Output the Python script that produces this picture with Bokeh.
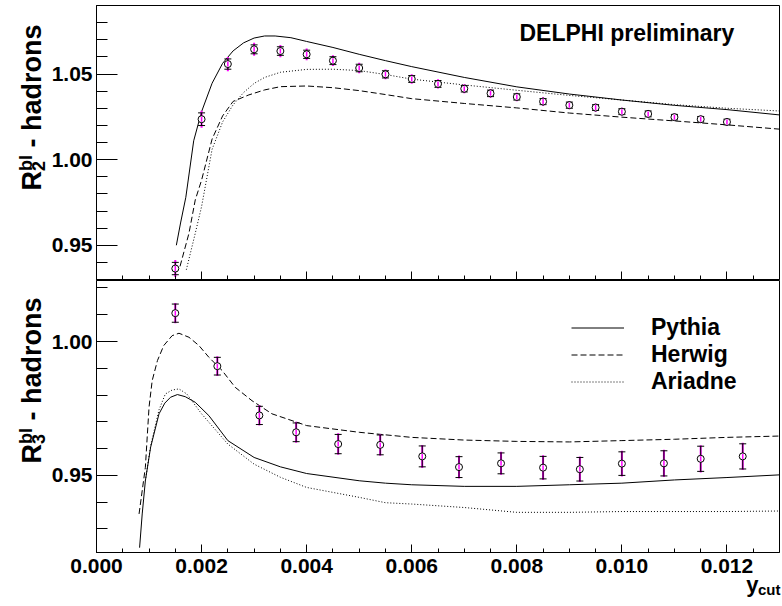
import math
from bokeh.plotting import figure
from bokeh.models import (Range1d, Label, Legend, LegendItem, ColumnDataSource,
                          FixedTicker, NumeralTickFormatter)
from bokeh.layouts import column, row
from bokeh.embed import file_html
from bokeh.resources import INLINE

FONT = "Liberation Sans"

# ---------------- data: upper panel (R2) ----------------
r2_x = [0.0015, 0.0020, 0.0025, 0.0030, 0.0035, 0.0040, 0.0045, 0.0050, 0.0055, 0.0060, 0.0065,
        0.0070, 0.0075, 0.0080, 0.0085, 0.0090, 0.0095, 0.0100, 0.0105, 0.0110, 0.0115, 0.0120]
r2_y = [0.9364, 1.0236, 1.0558, 1.0644, 1.0634, 1.0615, 1.0578, 1.0535, 1.0498, 1.0471, 1.0442,
        1.0414, 1.0387, 1.0366, 1.0339, 1.0318, 1.0304, 1.0280, 1.0267, 1.0248, 1.0236, 1.0220]
r2_stat = [0.0036, 0.0037, 0.0030, 0.0026, 0.0025, 0.0024, 0.0023, 0.0022, 0.0021, 0.0020, 0.0020,
           0.0019, 0.0019, 0.0018, 0.0018, 0.0018, 0.0017, 0.0017, 0.0017, 0.0016, 0.0016, 0.0016]
r2_tot = [0.0050, 0.0050, 0.0042, 0.0038, 0.0036, 0.0034, 0.0032, 0.0030, 0.0029, 0.0028, 0.0027,
          0.0026, 0.0026, 0.0025, 0.0025, 0.0024, 0.0024, 0.0023, 0.0023, 0.0022, 0.0022, 0.0022]

r2_pythia_x = [0.00152, 0.0016, 0.0017, 0.00185, 0.0020, 0.0022, 0.0024, 0.0026, 0.0028, 0.0030,
               0.0032, 0.0034, 0.0037, 0.0040, 0.0045, 0.0050, 0.0055, 0.0060, 0.0070, 0.0080,
               0.0090, 0.0100, 0.0110, 0.0120, 0.0130]
r2_pythia_y = [0.950, 0.963, 0.978, 1.011, 1.028, 1.0446, 1.0562, 1.0635, 1.0682, 1.0710,
               1.0722, 1.0722, 1.0712, 1.0690, 1.0655, 1.0615, 1.0578, 1.0543, 1.0480, 1.0425,
               1.0383, 1.0348, 1.0317, 1.0292, 1.0261]
r2_herwig_x = [0.00159, 0.00176, 0.00188, 0.0020, 0.0022, 0.0024, 0.0026, 0.0029, 0.0032, 0.0035,
               0.0040, 0.0045, 0.0050, 0.0055, 0.0060, 0.0070, 0.0080, 0.0090, 0.0100, 0.0110,
               0.0120, 0.0130]
r2_herwig_y = [0.9377, 0.957, 0.9765, 0.988, 1.012, 1.0255, 1.0340, 1.0378, 1.0407, 1.0426,
               1.0430, 1.0420, 1.0403, 1.0380, 1.0356, 1.0328, 1.0302, 1.0272, 1.0248, 1.0226,
               1.0203, 1.0178]
r2_ariadne_x = [0.00171, 0.00188, 0.0020, 0.0022, 0.0024, 0.0026, 0.0028, 0.0030, 0.0032, 0.0035,
                0.0040, 0.0045, 0.0050, 0.0055, 0.0060, 0.0070, 0.0080, 0.0090, 0.0100, 0.0110,
                0.0120, 0.0130]
r2_ariadne_y = [0.9357, 0.957, 0.9726, 1.006, 1.022, 1.032, 1.0392, 1.0445, 1.0480, 1.0510,
                1.0527, 1.0528, 1.0520, 1.0497, 1.0470, 1.0436, 1.0405, 1.0375, 1.0348, 1.0321,
                1.0300, 1.0284]

# ---------------- data: lower panel (R3) ----------------
r3_x = [0.0015, 0.0023, 0.0031, 0.0038, 0.0046, 0.0054, 0.0062, 0.0069, 0.0077, 0.0085,
        0.0092, 0.0100, 0.0108, 0.0115, 0.0123]
r3_y = [1.0106, 0.9908, 0.9724, 0.9661, 0.9617, 0.9614, 0.9571, 0.9531, 0.9545, 0.9529,
        0.9523, 0.9544, 0.9545, 0.9562, 0.9571]
r3_stat = [0.0034, 0.0033, 0.0034, 0.0035, 0.0036, 0.0037, 0.0039, 0.0039, 0.0039, 0.0042,
           0.0044, 0.0044, 0.0047, 0.0047, 0.0047]
r3_tot = [0.0038, 0.0037, 0.0038, 0.0039, 0.0040, 0.0041, 0.0043, 0.0043, 0.0043, 0.0046,
          0.0048, 0.0048, 0.0051, 0.0051, 0.0051]

r3_pythia_x = [0.00082, 0.00087, 0.00093, 0.00103, 0.00119, 0.00130, 0.00141, 0.00154, 0.00169,
               0.00188, 0.00214, 0.0025, 0.0030, 0.0035, 0.0040, 0.0050, 0.0055, 0.0060, 0.0070,
               0.0080, 0.0090, 0.0100, 0.0110, 0.0120, 0.0130]
r3_pythia_y = [0.923, 0.9356, 0.948, 0.9605, 0.973, 0.9770, 0.9792, 0.9802, 0.9794,
               0.9773, 0.9723, 0.963, 0.9567, 0.9532, 0.9507, 0.9480, 0.9471, 0.9465, 0.9459,
               0.9459, 0.9465, 0.9471, 0.9483, 0.9492, 0.9502]
r3_herwig_x = [0.00081, 0.00093, 0.00100, 0.00106, 0.00116, 0.00128, 0.00144, 0.00157, 0.00176,
               0.00195, 0.00214, 0.00239, 0.00264, 0.00296, 0.00334, 0.0040, 0.0050, 0.0060,
               0.0070, 0.0080, 0.0090, 0.0100, 0.0110, 0.0120, 0.0130]
r3_herwig_y = [0.9356, 0.953, 0.9755, 0.9854, 0.9929, 0.9985, 1.0022, 1.0031, 1.0016,
               0.9985, 0.9941, 0.9892, 0.9829, 0.9779, 0.9730, 0.9686, 0.9661, 0.9642,
               0.9632, 0.9627, 0.9625, 0.9630, 0.9635, 0.9642, 0.9647]
r3_ariadne_x = [0.00093, 0.00103, 0.00119, 0.00131, 0.00144, 0.00157, 0.00172, 0.0020, 0.0025,
                0.0030, 0.0035, 0.0040, 0.0050, 0.0055, 0.0060, 0.0070, 0.0080, 0.0090, 0.0100,
                0.0110, 0.0120, 0.0130]
r3_ariadne_y = [0.948, 0.961, 0.9745, 0.9804, 0.9819, 0.9823, 0.9804, 0.9730, 0.9617,
                0.9542, 0.9493, 0.9455, 0.9418, 0.9398, 0.9393, 0.9380, 0.9362, 0.9362, 0.9365,
                0.9365, 0.9365, 0.9367]

x_major = [0.000, 0.002, 0.004, 0.006, 0.008, 0.010, 0.012]
legend_labels = ["Pythia", "Herwig", "Ariadne"]

DASH = "6 3"
DOT = "1 2"

TITLE_W = 48          # width of the strip that carries the rotated y titles
MAIN_W = 782 - TITLE_W
TOP_H = 280
BOT_H = 298
XT_H = 26             # strip for the x title

x_range = Range1d(0.0, 0.013)


def make_fig(height, yr, ymajor, border_top, border_bottom):
    p = figure(width=MAIN_W, height=height, x_range=x_range, y_range=Range1d(*yr),
               output_backend="svg", toolbar_location=None,
               min_border_left=94 - TITLE_W, min_border_right=3,
               min_border_top=border_top, min_border_bottom=border_bottom)
    p.grid.visible = False
    p.outline_line_color = "black"
    p.outline_line_width = 1
    p.background_fill_color = "white"
    p.border_fill_color = "white"
    ax = p.xaxis[0]
    ax.ticker = FixedTicker(ticks=x_major,
                            minor_ticks=[i * 0.0005 for i in range(27)])
    ax.formatter = NumeralTickFormatter(format="0.000")
    ax.major_tick_in = 8
    ax.major_tick_out = 0
    ax.minor_tick_in = 4
    ax.minor_tick_out = 0
    ax.axis_line_color = "black"
    ax.major_label_text_font = FONT
    ax.major_label_text_font_style = "bold"
    ax.major_label_text_font_size = "21px"
    ax.major_label_text_color = "black"
    ax.major_label_standoff = 6
    ay = p.yaxis[0]
    lo = int(round(yr[0] * 100))
    hi = int(round(yr[1] * 100))
    ay.ticker = FixedTicker(ticks=ymajor, minor_ticks=[k / 100 for k in range(lo, hi + 1)])
    ay.formatter = NumeralTickFormatter(format="0.00")
    ay.major_tick_in = 21
    ay.major_tick_out = 0
    ay.minor_tick_in = 11
    ay.minor_tick_out = 0
    ay.axis_line_color = "black"
    ay.major_label_text_font = FONT
    ay.major_label_text_font_style = "bold"
    ay.major_label_text_font_size = "21px"
    ay.major_label_text_color = "black"
    ay.major_label_standoff = 4
    return p


def text_strip(width, height):
    s = figure(width=width, height=height, output_backend="svg", toolbar_location=None,
               x_axis_type=None, y_axis_type=None, min_border=0,
               x_range=Range1d(0, 1), y_range=Range1d(0, 1))
    s.grid.visible = False
    s.outline_line_color = None
    s.background_fill_color = "white"
    s.border_fill_color = "white"
    return s


def draw_data(p, xs, ys, stat, tot):
    src = ColumnDataSource(dict(
        x=xs, y=ys,
        slo=[a - b for a, b in zip(ys, stat)], shi=[a + b for a, b in zip(ys, stat)],
        tlo=[a - b for a, b in zip(ys, tot)], thi=[a + b for a, b in zip(ys, tot)]))
    p.segment(x0="x", y0="tlo", x1="x", y1="thi", source=src, line_color="#ff00ff", line_width=2)
    p.segment(x0="x", y0="slo", x1="x", y1="shi", source=src, line_color="black", line_width=1)
    p.scatter(x="x", y="slo", source=src, marker="dash", size=7, line_color="black", line_width=1)
    p.scatter(x="x", y="shi", source=src, marker="dash", size=7, line_color="black", line_width=1)
    p.scatter(x="x", y="y", source=src, marker="circle", size=7, fill_color="white",
              line_color="black", line_width=1)
    p.scatter(x="x", y="y", source=src, marker="dash", size=5, angle=math.pi / 2,
              line_color="#ff00ff", line_width=1.5)


def ytitle(s, sub, y0):
    common = dict(x_units="screen", y_units="screen", angle=math.pi / 2,
                  text_font=FONT, text_font_style="bold", text_color="black",
                  text_baseline="alphabetic", text_align="left")
    s.add_layout(Label(x=31, y=y0, text="R", text_font_size="27px", **common))
    s.add_layout(Label(x=25.5, y=y0 + 19.5, text="bl", text_font_size="18px", **common))
    s.add_layout(Label(x=38, y=y0 + 19.5, text=sub, text_font_size="18px", **common))
    s.add_layout(Label(x=31, y=y0 + 35.5, text="\u00a0- hadrons", text_font_size="27px", **common))


# ---------------- upper panel ----------------
top = make_fig(TOP_H, (0.93, 1.09), [0.95, 1.00, 1.05], 5, 1)
top.xaxis[0].major_label_text_font_size = "0px"
top.xaxis[0].major_label_standoff = 0
top.xaxis[0].major_label_overrides = {t: "" for t in x_major}
top.line(r2_pythia_x, r2_pythia_y, line_color="black", line_width=1)
top.line(r2_herwig_x, r2_herwig_y, line_color="black", line_width=1, line_dash=DASH)
top.line(r2_ariadne_x, r2_ariadne_y, line_color="black", line_width=1, line_dash=DOT)
draw_data(top, r2_x, r2_y, r2_stat, r2_tot)
top.add_layout(Label(x=423, y=247, x_units="screen", y_units="screen", text="DELPHI preliminary",
                     text_font=FONT, text_font_style="bold", text_font_size="23px",
                     text_color="black", text_baseline="alphabetic"))

# the strip's frame lines up with the panel frame, so y is measured from the frame bottom
t_top = text_strip(TITLE_W, TOP_H)
ytitle(t_top, "2", 89)

# ---------------- lower panel ----------------
bot = make_fig(BOT_H, (0.9212, 1.0228), [0.95, 1.00], 0, 26)
rp = bot.line(r3_pythia_x, r3_pythia_y, line_color="black", line_width=1)
rh = bot.line(r3_herwig_x, r3_herwig_y, line_color="black", line_width=1, line_dash=DASH)
ra = bot.line(r3_ariadne_x, r3_ariadne_y, line_color="black", line_width=1, line_dash=DOT)
draw_data(bot, r3_x, r3_y, r3_stat, r3_tot)

legend = Legend(items=[LegendItem(label=legend_labels[0], renderers=[rp]),
                       LegendItem(label=legend_labels[1], renderers=[rh]),
                       LegendItem(label=legend_labels[2], renderers=[ra])],
                location=(475, 157), glyph_width=53, glyph_height=27, label_height=27,
                label_standoff=27, spacing=0, padding=0, margin=0,
                border_line_alpha=0, background_fill_alpha=0,
                label_text_font=FONT, label_text_font_style="bold",
                label_text_font_size="23px", label_text_color="black")
bot.add_layout(legend)

t_bot = text_strip(TITLE_W, BOT_H)
ytitle(t_bot, "3", 89)

# ---------------- x title strip ----------------
xt = text_strip(782, XT_H)
xt.add_layout(Label(x=758, y=20, x_units="screen", y_units="screen", text="y",
                    text_font=FONT, text_font_style="bold", text_font_size="22px",
                    text_color="black", text_align="right", text_baseline="alphabetic"))
xt.add_layout(Label(x=780, y=15, x_units="screen", y_units="screen", text="cut",
                    text_font=FONT, text_font_style="bold", text_font_size="15px",
                    text_color="black", text_align="right", text_baseline="alphabetic"))

layout = column(row(t_top, top, spacing=0), row(t_bot, bot, spacing=0), xt, spacing=0)
open("out.html", "w").write(file_html(layout, INLINE))
